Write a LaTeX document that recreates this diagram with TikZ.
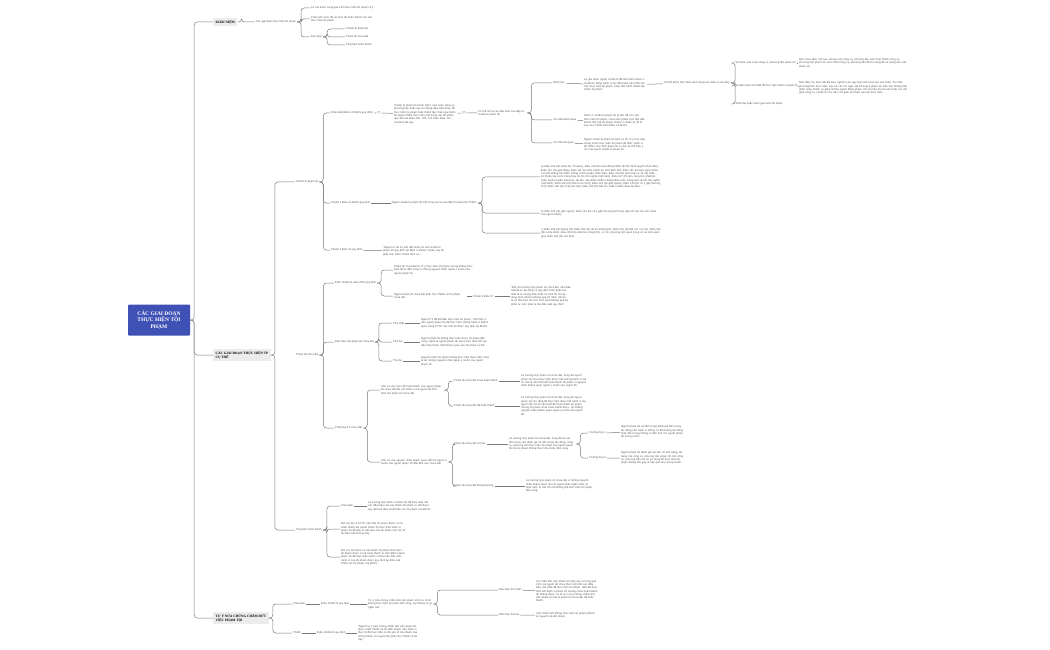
\documentclass[tikz,border=0pt]{standalone}
\usepackage{fontspec}
\setmainfont{Liberation Sans}
\newfontfamily\headfont{Liberation Serif}
\usetikzlibrary{positioning}
\definecolor{rootblue}{HTML}{3F51B5}
\definecolor{linegray}{HTML}{7A7A7A}
\definecolor{txtgray}{HTML}{555555}
\tikzset{
  leaf/.style={anchor=west, inner sep=1pt, text=txtgray, font=\fontsize{2.7}{3.3}\selectfont, align=left},
  para/.style={leaf, text width=#1},
  main/.style={anchor=west, fill=gray!15, inner sep=2.5pt, font=\headfont\fontsize{3.4}{4}\selectfont\bfseries, align=left},
  link/.style={draw=linegray, line width=0.5pt, rounded corners=3pt},
}
\newcommand{\lnk}[2]{\draw[link] (#1.east) -- ++(4,0) |- (#2.west);}
\begin{document}
\begin{tikzpicture}[x=1pt,y=-1pt]
\useasboundingbox (0,0) rectangle (1050,650);
% root
\node[fill=rootblue, text=white, rounded corners=1pt, font=\headfont\fontsize{5.5}{6.5}\selectfont\bfseries, align=center, minimum width=62, minimum height=31] (root) at (159,320) {CÁC GIAI ĐOẠN\\THỰC HIỆN TỘI\\PHẠM};
\node[main] (kn) at (213,22) {KHÁI NIỆM};
\node[main] (gd) at (213,355) {CÁC GIAI ĐOẠN THỰC HIỆN TP\\CỤ THỂ};
\node[main] (ty) at (213,618) {TỰ Ý NỬA CHỪNG CHẤM DỨT\\VIỆC PHẠM TỘI};
\foreach \m in {kn,gd,ty} {\lnk{root}{\m}}
% khai niem
\node[leaf] (kn1) at (255,22) {Các giai đoạn thực hiện tội phạm};
\node[leaf] (kn11) at (310,8) {Là các bước trong quá trình thực hiện tội phạm cố ý};
\node[para=62] (kn12) at (310,19) {Phản ánh mức độ và mức độ hoàn thành của việc thực hiện tội phạm};
\node[leaf] (kn13) at (310,37) {Bao gồm};
\node[leaf] (kn131) at (345,29) {Chuẩn bị phạm tội};
\node[leaf] (kn132) at (345,37) {Phạm tội chưa đạt};
\node[leaf] (kn133) at (345,45) {Tội phạm hoàn thành};
\lnk{kn}{kn1}
\foreach \c in {kn11,kn12,kn13} {\lnk{kn1}{\c}}
\foreach \c in {kn131,kn132,kn133} {\lnk{kn13}{\c}}
% chuan bi pham toi
\node[leaf] (cb) at (295,182) {Chuẩn bị phạm tội};
\node[leaf] (cb1) at (330,113) {Khái niệm(Điều 14 BLHS quy định)};
\node[leaf] (cb1a) at (376,113) {(?)};
\node[para=62] (cb1b) at (393,114) {Chuẩn bị phạm tội là tìm kiếm, sửa soạn công cụ, phương tiện hoặc tạo ra những điều kiện khác để thực hiện tội phạm hoặc thành lập, tham gia nhóm tội phạm nhằm thực hiện một trong các tội phạm quy định tại Điều 108, 109, 110 hoặc Điều 112 ... của Bộ luật này.};
\node[leaf] (cb1c) at (461,113) {(?)};
\node[para=48] (cb1d) at (477,113) {Có thể nói là các dấu hiệu sau đây là chuẩn bị phạm tội};
\node[leaf] (hx) at (552,83) {Hình thức};
\node[para=62] (hx1) at (583,85) {Là giai đoạn người chuẩn bị đã tiến hành hành vi chuẩn bị, bằng hành vi tạo điều kiện cần thiết cho việc thực hiện tội phạm, hoặc tiến hành thành lập nhóm tội phạm.};
\node[leaf] (hx2) at (663,83) {Có thể được thực hiện dưới dạng các hành vi sau đây:};
\node[leaf] (hx21) at (733,63) {Tìm kiếm, sửa soạn công cụ, phương tiện phạm tội};
\node[para=110] (hx21a) at (798,63) {Như mua sắm, chế tạo, cải tạo các công cụ, phương tiện sinh hoạt thành công cụ, phương tiện phạm tội; sửa chữa công cụ, phương tiện đã hư hỏng để sử dụng cho việc phạm tội.};
\node[leaf] (hx22) at (733,86) {Tạo điều kiện cần thiết để thực hiện hành vi phạm tội};
\node[para=112] (hx22a) at (798,88) {Như điều tra, theo dõi địa bàn, nghiên cứu quy luật sinh hoạt của nạn nhân, tìm hiểu phương thức thực hiện, loại trừ các trở ngại, lập kế hoạch phạm tội, bàn bạc thống nhất phân công nhiệm vụ giữa những người đồng phạm, tìm nơi tiêu thụ tài sản hoặc nơi cất giấu công cụ, chuẩn bị cho việc che giấu tội phạm sau khi thực hiện.};
\node[leaf] (hx23) at (733,104) {Thành lập hoặc tham gia nhóm tội phạm};
\node[leaf] (kq) at (552,120) {Về mặt khách quan};
\node[para=62] (kq1) at (583,121) {Hành vi chuẩn bị phạm tội là tiền đề cho việc thực hiện tội phạm, chưa xâm phạm trực tiếp đến khách thể của tội phạm; Hành vi chuẩn bị chỉ bị truy cứu TNHS theo Điều 14 BLHS.};
\node[leaf] (cq) at (552,143) {Về mặt chủ quan};
\node[para=62] (cq1) at (583,145) {Người chuẩn bị phạm tội luôn có lỗi cố ý trực tiếp, mong muốn thực hiện tội phạm đã định; hành vi đó nhằm mục đích phạm tội cụ thể và thể hiện ý chí của người chuẩn bị phạm tội.};
\lnk{gd}{cb}
\lnk{cb}{cb1}
\draw[link] (cb1) -- (cb1a) (cb1a) -- (cb1b) (cb1b) -- (cb1c) (cb1c) -- (cb1d);
\foreach \c in {hx,kq,cq} {\lnk{cb1d}{\c}}
\draw[link] (hx1) -- (hx2);
\draw[link] (hx) -- (hx1);
\draw[link] (kq) -- (kq1);
\draw[link] (cq) -- (cq1);
\foreach \c in {hx21,hx22,hx23} {\lnk{hx2}{\c}}
\draw[link] (hx21) -- (hx21a);
\draw[link] (hx22) -- (hx22a);
\node[leaf] (k2) at (330,203) {Khoản 2 Điều 14 BLHS quy định};
\node[leaf] (k2a) at (391,203) {Người chuẩn bị phạm tội một trong các tội sau đây thì phải chịu TNHS:};
\node[para=120] (k2b) at (540,177) {a) Điều 108 (tội phản bội Tổ quốc), Điều 109 (tội hoạt động nhằm lật đổ chính quyền nhân dân), Điều 110 (tội gián điệp), Điều 111 (tội xâm phạm an ninh lãnh thổ), Điều 112 (tội bạo loạn), Điều 113 (tội khủng bố nhằm chống chính quyền nhân dân), Điều 114 (tội phá hoại cơ sở vật chất – kỹ thuật của nước Cộng hòa xã hội chủ nghĩa Việt Nam), Điều 117 (tội làm, tàng trữ, phát tán hoặc tuyên truyền thông tin, tài liệu, vật phẩm nhằm chống Nhà nước Cộng hòa xã hội chủ nghĩa Việt Nam), Điều 118 (tội phá rối an ninh), Điều 123 (tội giết người), Điều 134 (tội cố ý gây thương tích), Điều 168 (tội cướp tài sản), Điều 169 (tội bắt cóc nhằm chiếm đoạt tài sản) ...};
\node[para=120] (k2c) at (540,213) {b) Điều 123 (tội giết người), Điều 134 (tội cố ý gây thương tích hoặc gây tổn hại cho sức khỏe của người khác);};
\node[para=120] (k2d) at (540,233) {c) Điều 299 (tội khủng bố), Điều 300 (tội tài trợ khủng bố), Điều 301 (tội bắt cóc con tin), Điều 302 (tội cướp biển), Điều 303 (tội phá hủy công trình, cơ sở, phương tiện quan trọng về an ninh quốc gia), Điều 324 (tội rửa tiền).};
\lnk{cb}{k2}
\draw[link] (k2) -- (k2a);
\foreach \c in {k2b,k2c,k2d} {\lnk{k2a}{\c}}
\node[leaf] (k3) at (330,250) {Khoản 3 Điều 14 quy định};
\node[para=62] (k3a) at (382,251) {"Người từ đủ 14 tuổi đến dưới 16 tuổi chuẩn bị phạm tội quy định tại điểm a khoản 2 Điều này thì phải chịu trách nhiệm hình sự."};
\lnk{cb}{k3}
\draw[link] (k3) -- (k3a);
% pham toi chua dat
\node[leaf] (cd) at (295,355) {Phạm tội chưa đạt};
\node[leaf] (d15) at (334,283) {Điều 15 BLHS năm 2015 quy định};
\node[para=80] (d15a) at (393,270) {Phạm tội chưa đạt là cố ý thực hiện tội phạm nhưng không thực hiện được đến cùng vì những nguyên nhân ngoài ý muốn của người phạm tội};
\node[para=72] (d15b) at (393,296) {Người phạm tội chưa đạt phải chịu TNHS về tội phạm chưa đạt};
\node[leaf] (k57) at (472,296) {Khoản 3 Điều 57};
\node[para=60] (k57a) at (510,296) {"Đối với trường hợp phạm tội chưa đạt, nếu điều luật được áp dụng có quy định hình phạt cao nhất là tù chung thân hoặc tử hình thì chỉ áp dụng hình phạt tù không quá 20 năm; nếu là tù có thời hạn thì mức hình phạt không quá ba phần tư mức phạt tù mà điều luật quy định".};
\lnk{cd}{d15}
\foreach \c in {d15a,d15b} {\lnk{d15}{\c}}
\draw[link] (d15b) -- (k57) (k57) -- (k57a);
\node[leaf] (dh) at (334,342) {Dấu hiệu của phạm tội chưa đạt};
\node[leaf] (dh1) at (392,323) {Thứ nhất};
\node[para=68] (dh1a) at (420,323) {Người PT đã bắt đầu thực hiện tội phạm. Thể hiện ở việc người phạm tội đã thực hiện những hành vi khách quan trong CTTP của một tội được quy định tại BLHS.};
\node[leaf] (dh2) at (392,342) {Thứ hai};
\node[para=68] (dh2a) at (420,342) {Người phạm tội không thực hiện được tội phạm đến cùng, nghĩa là người phạm tội chưa thực hiện hết các dấu hiệu thuộc mặt khách quan của tội phạm cụ thể.};
\node[leaf] (dh3) at (392,361) {Thứ ba};
\node[para=68] (dh3a) at (420,361) {Nguyên nhân tội phạm không thực hiện được đến cùng là do những nguyên nhân ngoài ý muốn của người phạm tội};
\lnk{cd}{dh}
\foreach \i in {1,2,3} {\lnk{dh}{dh\i} \draw[link] (dh\i) -- (dh\i a);}
\node[leaf] (pl) at (334,428) {Phân loại TP chưa đạt};
\node[para=62] (pl1) at (380,390) {Căn cứ vào mức độ hoàn thành của người phạm tội chưa đạt đối với hành vi mà người đó thực hiện mà phạm tội chưa đạt};
\node[leaf] (pl11) at (453,381) {Phạm tội chưa đạt chưa hoàn thành};
\node[para=66] (pl11a) at (520,381) {Là trường hợp phạm tội chưa đạt, trong đó người phạm tội chưa thực hiện được hết những hành vi mà họ cho là cần thiết để hoàn thành tội phạm vì nguyên nhân khách quan ngoài ý muốn của người đó.};
\node[leaf] (pl12) at (453,406) {Phạm tội chưa đạt đã hoàn thành};
\node[para=66] (pl12a) at (520,406) {Là trường hợp phạm tội chưa đạt, trong đó người phạm tội cho rằng đã thực hiện được hết hành vi mà người đó cho là cần thiết để hoàn thành tội phạm nhưng tội phạm chưa hoàn thành được, do những nguyên nhân khách quan ngoài ý muốn của người đó.};
\node[para=66] (pl2) at (380,462) {Căn cứ vào nguyên nhân khách quan dẫn tới người ý muốn của người phạm tội dẫn đến việc chưa đạt};
\node[leaf] (pl21) at (453,444) {Phạm tội chưa đạt vô hiệu};
\node[para=66] (pl21a) at (508,444) {Là trường hợp phạm tội chưa đạt, trong đó do sai lầm trong việc đánh giá về đối tượng tác động, công cụ, phương tiện thực hiện tội phạm của người phạm tội mà tội phạm không thực hiện được đến cùng.};
\node[leaf] (tr1) at (588,433) {Trường hợp 1};
\node[para=62] (tr1a) at (620,432) {Người phạm tội sai lầm trong đánh giá đối tượng tác động nên hành vi không có đối tượng tác động hoặc đối tượng không có đặc tính mà người phạm tội mong muốn.};
\node[leaf] (tr2) at (588,458) {Trường hợp 2};
\node[para=62] (tr2a) at (620,458) {Người phạm tội đánh giá sai lầm về tính năng, tác dụng của công cụ, phương tiện phạm tội nên công cụ, phương tiện mà họ sử dụng để thực hiện tội phạm không thể gây ra hậu quả như mong muốn.};
\node[leaf] (pl22) at (453,486) {Phạm tội chưa đạt thông thường};
\node[para=66] (pl22a) at (525,486) {Là trường hợp phạm tội chưa đạt vì những nguyên nhân khách quan như bị người khác ngăn chặn, bị phát hiện, bị cản trở mà không thể thực hiện tội phạm đến cùng.};
\lnk{cd}{pl}
\foreach \c in {pl1,pl2} {\lnk{pl}{\c}}
\foreach \c in {pl11,pl12} {\lnk{pl1}{\c}}
\foreach \c in {pl21,pl22} {\lnk{pl2}{\c}}
\draw[link] (pl11) -- (pl11a) (pl12) -- (pl12a) (pl21) -- (pl21a) (pl22) -- (pl22a);
\foreach \c in {tr1,tr2} {\lnk{pl21a}{\c}}
\draw[link] (tr1) -- (tr1a) (tr2) -- (tr2a);
% toi pham hoan thanh
\node[leaf] (ht) at (295,530) {Tội phạm hoàn thành};
\node[leaf] (ht1) at (340,506) {Khái niệm};
\node[para=64] (ht1a) at (367,506) {Là trường hợp hành vi phạm tội đã thỏa mãn hết các dấu hiệu của cấu thành tội phạm cụ thể được quy định tại điều luật Phần các tội phạm của BLHS.};
\node[para=64] (ht2) at (340,529) {Đối với tội có CTTP vật chất, tội phạm được coi là hoàn thành khi người phạm tội thực hiện hành vi phạm tội đã gây ra hậu quả của tội phạm như mô tả tại điều luật tương ứng.};
\node[para=64] (ht3) at (340,557) {Đối với tội phạm có cấu thành tội phạm hình thức, tội phạm được coi là hoàn thành từ thời điểm người phạm tội đã thực hiện hành vi thỏa mãn dấu hiệu hành vi của tội phạm được quy định tại điều luật Phần các tội phạm của BLHS.};
\lnk{gd}{ht}
\foreach \c in {ht1,ht2,ht3} {\lnk{ht}{\c}}
\draw[link] (ht1) -- (ht1a);
% tu y nua chung
\node[leaf] (tk) at (292,604) {Khái niệm};
\node[leaf] (tk1) at (320,604) {Điều 16 BLHS quy định};
\node[para=64] (tk2) at (367,604) {Tự ý nửa chừng chấm dứt việc phạm tội là tự mình không thực hiện tội phạm đến cùng, tuy không có gì ngăn cản...};
\node[leaf] (tk21) at (498,590) {Dấu hiệu thứ nhất};
\node[para=62] (tk21a) at (535,591) {Sự chấm dứt việc phạm tội phải xảy ra trong quá trình mà người đó chưa thực hiện hết các điều kiện cần thiết để thực hiện tội phạm. Nếu đã thực hiện hết hành vi phạm tội nhưng chưa hoàn thành thì không được coi là tự ý nửa chừng chấm dứt việc phạm tội mà là phạm tội chưa đạt đã hoàn thành.};
\node[leaf] (tk22) at (498,615) {Dấu hiệu thứ hai};
\node[para=62] (tk22a) at (535,615) {Việc chấm dứt không thực hiện tội phạm phải là tự nguyện và dứt khoát.};
\node[leaf] (tn) at (292,633) {TNHS};
\node[leaf] (tn1) at (316,633) {Điều 16 BLHS quy định};
\node[para=64] (tn2) at (357,633) {"Người tự ý nửa chừng chấm dứt việc phạm tội được miễn TNHS về tội định phạm; nếu hành vi thực tế đã thực hiện có đủ yếu tố cấu thành của một tội khác, thì người đó phải chịu TNHS về tội này."};
\foreach \c in {tk,tn} {\lnk{ty}{\c}}
\draw[link] (tk) -- (tk1) (tk1) -- (tk2) (tn) -- (tn1) (tn1) -- (tn2);
\foreach \c in {tk21,tk22} {\lnk{tk2}{\c}}
\draw[link] (tk21) -- (tk21a) (tk22) -- (tk22a);
\end{tikzpicture}
\end{document}
